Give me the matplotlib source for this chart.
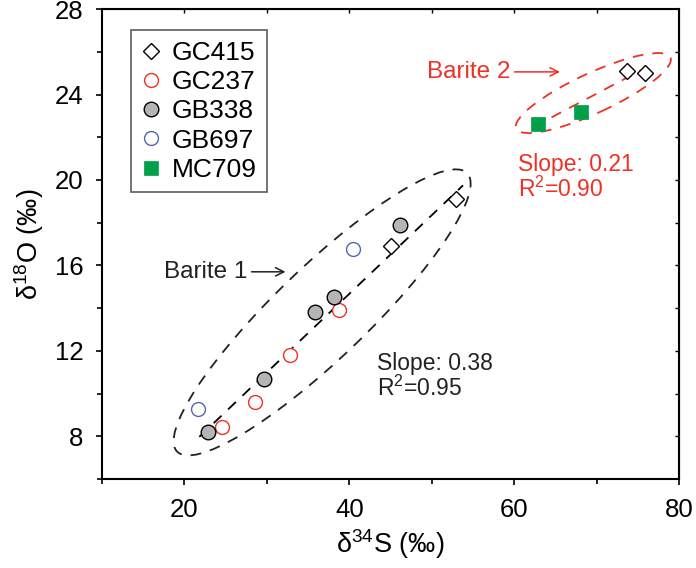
import matplotlib
matplotlib.use("Agg")
import matplotlib.pyplot as plt
from matplotlib.patches import Ellipse
from matplotlib.transforms import ScaledTranslation

plt.rcParams['font.family'] = ['Liberation Sans', 'DejaVu Sans']
plt.rcParams['mathtext.fontset'] = 'custom'
plt.rcParams['mathtext.rm'] = 'Liberation Sans'
plt.rcParams['mathtext.it'] = 'Liberation Sans:italic'

# data (d34S, d18O)
gc415_s = [53.0, 45.1, 73.7, 75.9]
gc415_o = [19.1, 16.9, 25.1, 25.0]
gc237_s = [38.7, 32.8, 28.5, 24.5]
gc237_o = [13.9, 11.8, 9.6, 8.45]
gb338_s = [46.1, 38.1, 35.8, 29.7, 22.8]
gb338_o = [17.9, 14.5, 13.8, 10.7, 8.2]
gb697_s = [40.5, 21.6]
gb697_o = [16.76, 9.26]
mc709_s = [62.9, 68.1]
mc709_o = [22.64, 23.2]

# regression lines
fit1_x = [21.8, 53.8]
fit1_slope, fit1_int = 0.368, -0.05
fit2_x = [62.4, 75.4]
fit2_slope, fit2_int = 0.203, 9.83

red = '#ee3124'
dark = '#222222'

fig = plt.figure(figsize=(6.96, 5.68), dpi=100)
ax = fig.add_axes([0.1466, 0.1567, 0.8290, 0.8273])

ax.plot(fit1_x, [fit1_slope * v + fit1_int for v in fit1_x], color='black',
        lw=1.3, dashes=(6, 5), zorder=2)
ax.plot(fit2_x, [fit2_slope * v + fit2_int for v in fit2_x], color=red,
        lw=1.3, dashes=(6, 5), zorder=2)

def ell(cx, cy, w, h, ang, color):
    # size in inches, centred on a data point
    tr = fig.dpi_scale_trans + ScaledTranslation(cx, cy, ax.transData)
    e = Ellipse((0, 0), w, h, angle=ang, transform=tr, fill=False,
                edgecolor=color, lw=1.3, linestyle=(0, (6, 5)), zorder=2)
    ax.add_patch(e)

ell(36.7, 13.8, 4.02, 0.92, 43.8, dark)
ell(69.6, 24.07, 1.70, 0.40, 24.8, red)

ax.plot(gc415_s, gc415_o, 'D', ms=8.5, mfc='white', mec='black', mew=1.0,
        ls='none', label='GC415', zorder=4)
ax.plot(gc237_s, gc237_o, 'o', ms=10, mfc='white', mec=red, mew=1.0,
        ls='none', label='GC237', zorder=4)
ax.plot(gb338_s, gb338_o, 'o', ms=10.5, mfc='#b5b5b5', mec='black', mew=1.0,
        ls='none', label='GB338', zorder=4)
ax.plot(gb697_s, gb697_o, 'o', ms=10, mfc='white', mec='#5565b5', mew=1.0,
        ls='none', label='GB697', zorder=4)
ax.plot(mc709_s, mc709_o, 's', ms=9.5, mfc='#00a04a', mec='#00a04a', mew=0.5,
        ls='none', label='MC709', zorder=4)

ax.set_xlim(10, 80)
ax.set_ylim(6, 28)
ax.set_xticks([20, 40, 60, 80])
ax.set_xticks([10, 30, 50, 70], minor=True)
ax.set_yticks([8, 12, 16, 20, 24, 28])
ax.set_yticks([6, 10, 14, 18, 22, 26], minor=True)
ax.tick_params(which='major', length=4.5, width=1.2, labelsize=18.5,
               direction='out', pad=9)
ax.tick_params(which='minor', length=3.5, width=1.2, direction='out')
for s in ax.spines.values():
    s.set_linewidth(1.5)

top = ax.secondary_xaxis('top')
top.set_xticks([20, 30, 40, 50, 60, 70])
top.tick_params(direction='in', length=3, width=1, labeltop=False)
right = ax.secondary_yaxis('right')
right.set_yticks([8, 10, 12, 14, 16, 18, 20, 22, 24, 26])
right.tick_params(direction='in', length=3, width=1, labelright=False)

ax.set_xlabel('δ$^{34}$S (‰)', fontsize=19.5, labelpad=4)
ax.set_ylabel('δ$^{18}$O (‰)', fontsize=19.5, labelpad=6)

leg = ax.legend(loc='upper left', bbox_to_anchor=(0.05, 0.955), fontsize=19,
                frameon=True, fancybox=False, edgecolor='#333333',
                handlelength=0.7, handletextpad=0.45, borderpad=0.4,
                labelspacing=0.2, borderaxespad=0)
leg.get_frame().set_linewidth(1.2)

ax.annotate('', xy=(32.6, 15.7), xytext=(27.8, 15.7),
            arrowprops=dict(arrowstyle='->,head_length=0.6,head_width=0.3',
                            color=dark, lw=1.1))
ax.text(27.6, 15.7, 'Barite 1', fontsize=17.5, ha='right', va='center',
        color=dark)
ax.annotate('', xy=(65.9, 25.06), xytext=(59.7, 25.06),
            arrowprops=dict(arrowstyle='->,head_length=0.6,head_width=0.3',
                            color=red, lw=1.1))
ax.text(59.6, 25.06, 'Barite 2', fontsize=17.5, ha='right', va='center',
        color=red)

ax.text(60.5, 20.12, 'Slope: 0.21\nR$^2$=0.90', fontsize=16.5, color=red,
        ha='left', va='center', linespacing=1.05)
ax.text(43.4, 10.8, 'Slope: 0.38\nR$^2$=0.95', fontsize=16.5, color=dark,
        ha='left', va='center', linespacing=1.05)

fig.savefig('out.png', dpi=100)
